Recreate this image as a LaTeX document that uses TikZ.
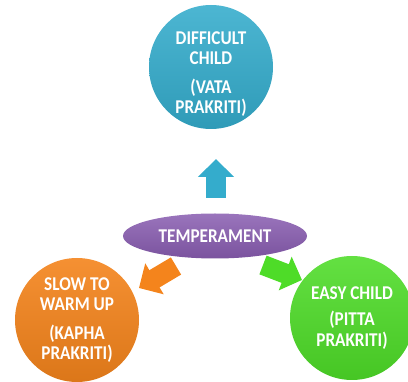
\documentclass[tikz,border=0pt]{standalone}
\usepackage{fontspec}
\setmainfont{Carlito}[FakeStretch=0.88]
\usetikzlibrary{arrows.meta,shapes.geometric}
\definecolor{vatablue}{RGB}{52,172,204}
\definecolor{kaphaorange}{RGB}{244,132,28}
\definecolor{pittagreen}{RGB}{78,220,40}
\definecolor{tempurple}{RGB}{136,92,176}
\begin{document}
\begin{tikzpicture}[x=1pt,y=-1pt,
		bubble/.style={circle, minimum size=124pt, inner sep=0pt, text=white, align=center, font=\fontsize{19.5}{20.5}\selectfont\bfseries},
		fatarrow/.style={line width=20pt, -{Triangle[length=18pt,width=35pt]}}]
	\useasboundingbox (0,0) rectangle (408,382);
	% arrows
	\coordinate (uptail) at (216,198);
	\coordinate (uptip) at (216,159);
	\coordinate (lefttail) at (176,266);
	\coordinate (lefttip) at (139,288);
	\coordinate (righttail) at (263,265);
	\coordinate (righttip) at (302,280);
	\draw[fatarrow, vatablue] (uptail)--(uptip);
	\draw[fatarrow, kaphaorange] (lefttail)--(lefttip);
	\draw[fatarrow, pittagreen] (righttail)--(righttip);
	% centre
	\node[ellipse, minimum width=184pt, minimum height=45pt, inner sep=0pt, top color=tempurple!85!white, bottom color=tempurple!90!black, text=white, font=\fontsize{19.5}{20.5}\selectfont\bfseries] (temp) at (215,236) {TEMPERAMENT};
	% prakriti
	\node[bubble, top color=vatablue!88!white, bottom color=vatablue!90!black] (vata) at (211,67) {\mbox{}\\[6pt]DIFFICULT\\CHILD\\[8pt](VATA\\PRAKRITI)};
	\node[bubble, top color=kaphaorange!90!white, bottom color=kaphaorange!90!black] (kapha) at (77,320) {SLOW TO\\WARM UP\\[8pt](KAPHA\\PRAKRITI)};
	\node[bubble, top color=pittagreen!88!white, bottom color=pittagreen!90!black] (pitta) at (352,318) {EASY CHILD\\[6pt](PITTA\\PRAKRITI)};
\end{tikzpicture}
\end{document}
